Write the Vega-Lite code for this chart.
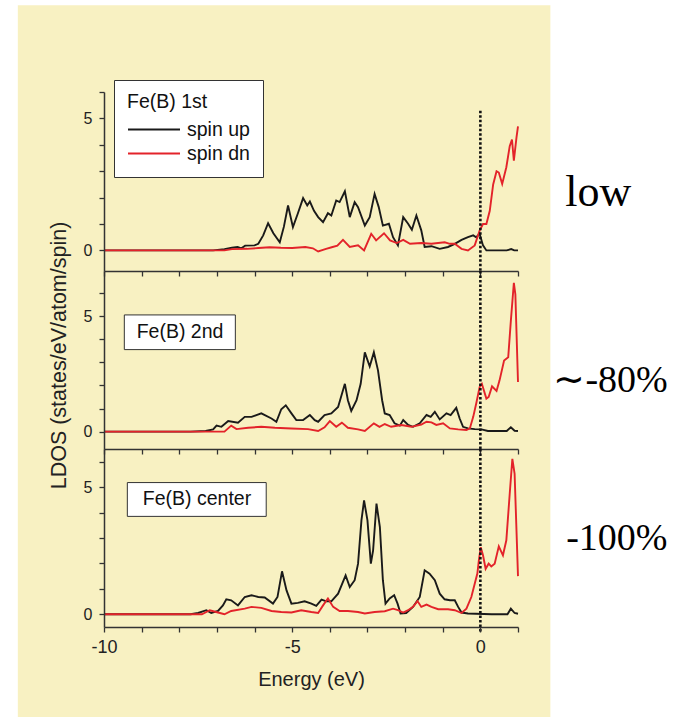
{
"$schema": "https://vega.github.io/schema/vega-lite/v6.json",
"background": "white",
"padding": {"left": 17, "top": 5, "right": 10, "bottom": 0},
"bounds": "flush",
"spacing": 0,
"datasets": {
"dos": [
{"p":1,"s":"spin up","e":-10,"v":0},{"p":1,"s":"spin up","e":-7.1,"v":0},{"p":1,"s":"spin up","e":-6.8,"v":0.05},{"p":1,"s":"spin up","e":-6.6,"v":0.1},{"p":1,"s":"spin up","e":-6.45,"v":0.13},{"p":1,"s":"spin up","e":-6.35,"v":0.08},{"p":1,"s":"spin up","e":-6.25,"v":0.18},{"p":1,"s":"spin up","e":-6.0,"v":0.19},{"p":1,"s":"spin up","e":-5.9,"v":0.25},{"p":1,"s":"spin up","e":-5.77,"v":0.57},{"p":1,"s":"spin up","e":-5.64,"v":1.03},{"p":1,"s":"spin up","e":-5.5,"v":0.65},{"p":1,"s":"spin up","e":-5.33,"v":0.31},{"p":1,"s":"spin up","e":-5.22,"v":0.9},{"p":1,"s":"spin up","e":-5.11,"v":1.7},{"p":1,"s":"spin up","e":-4.98,"v":0.88},{"p":1,"s":"spin up","e":-4.85,"v":1.4},{"p":1,"s":"spin up","e":-4.71,"v":1.98},{"p":1,"s":"spin up","e":-4.6,"v":1.7},{"p":1,"s":"spin up","e":-4.53,"v":1.85},{"p":1,"s":"spin up","e":-4.42,"v":1.5},{"p":1,"s":"spin up","e":-4.31,"v":1.26},{"p":1,"s":"spin up","e":-4.18,"v":1.07},{"p":1,"s":"spin up","e":-4.05,"v":1.41},{"p":1,"s":"spin up","e":-3.96,"v":1.32},{"p":1,"s":"spin up","e":-3.83,"v":1.89},{"p":1,"s":"spin up","e":-3.74,"v":1.83},{"p":1,"s":"spin up","e":-3.6,"v":2.24},{"p":1,"s":"spin up","e":-3.47,"v":1.26},{"p":1,"s":"spin up","e":-3.34,"v":1.83},{"p":1,"s":"spin up","e":-3.25,"v":1.64},{"p":1,"s":"spin up","e":-3.07,"v":0.94},{"p":1,"s":"spin up","e":-2.94,"v":1.26},{"p":1,"s":"spin up","e":-2.81,"v":2.14},{"p":1,"s":"spin up","e":-2.7,"v":1.64},{"p":1,"s":"spin up","e":-2.59,"v":0.94},{"p":1,"s":"spin up","e":-2.43,"v":1.01},{"p":1,"s":"spin up","e":-2.32,"v":0.5},{"p":1,"s":"spin up","e":-2.19,"v":0.19},{"p":1,"s":"spin up","e":-2.05,"v":1.26},{"p":1,"s":"spin up","e":-1.92,"v":1.01},{"p":1,"s":"spin up","e":-1.82,"v":0.78},{"p":1,"s":"spin up","e":-1.7,"v":1.32},{"p":1,"s":"spin up","e":-1.57,"v":0.76},{"p":1,"s":"spin up","e":-1.48,"v":0.13},{"p":1,"s":"spin up","e":-1.3,"v":0.16},{"p":1,"s":"spin up","e":-1.08,"v":0.06},{"p":1,"s":"spin up","e":-0.86,"v":0.13},{"p":1,"s":"spin up","e":-0.68,"v":0.25},{"p":1,"s":"spin up","e":-0.5,"v":0.4},{"p":1,"s":"spin up","e":-0.33,"v":0.5},{"p":1,"s":"spin up","e":-0.19,"v":0.57},{"p":1,"s":"spin up","e":-0.11,"v":0.5},{"p":1,"s":"spin up","e":-0.02,"v":0.63},{"p":1,"s":"spin up","e":0.07,"v":0.19},{"p":1,"s":"spin up","e":0.16,"v":0},{"p":1,"s":"spin up","e":0.7,"v":0},{"p":1,"s":"spin up","e":0.82,"v":0.05},{"p":1,"s":"spin up","e":0.9,"v":0},{"p":1,"s":"spin up","e":1.0,"v":0},
{"p":1,"s":"spin dn","e":-10,"v":0},{"p":1,"s":"spin dn","e":-6.8,"v":0},{"p":1,"s":"spin dn","e":-6.6,"v":0.05},{"p":1,"s":"spin dn","e":-6.2,"v":0.06},{"p":1,"s":"spin dn","e":-5.9,"v":0.09},{"p":1,"s":"spin dn","e":-5.6,"v":0.12},{"p":1,"s":"spin dn","e":-5.3,"v":0.1},{"p":1,"s":"spin dn","e":-5.0,"v":0.09},{"p":1,"s":"spin dn","e":-4.65,"v":0.13},{"p":1,"s":"spin dn","e":-4.45,"v":0.08},{"p":1,"s":"spin dn","e":-4.31,"v":-0.04},{"p":1,"s":"spin dn","e":-4.1,"v":0.06},{"p":1,"s":"spin dn","e":-3.95,"v":0.12},{"p":1,"s":"spin dn","e":-3.8,"v":0.18},{"p":1,"s":"spin dn","e":-3.65,"v":0.4},{"p":1,"s":"spin dn","e":-3.47,"v":0.13},{"p":1,"s":"spin dn","e":-3.25,"v":0.19},{"p":1,"s":"spin dn","e":-3.09,"v":0},{"p":1,"s":"spin dn","e":-2.9,"v":0.63},{"p":1,"s":"spin dn","e":-2.77,"v":0.38},{"p":1,"s":"spin dn","e":-2.56,"v":0.65},{"p":1,"s":"spin dn","e":-2.4,"v":0.38},{"p":1,"s":"spin dn","e":-2.22,"v":0.28},{"p":1,"s":"spin dn","e":-2.05,"v":0.4},{"p":1,"s":"spin dn","e":-1.87,"v":0.25},{"p":1,"s":"spin dn","e":-1.57,"v":0.28},{"p":1,"s":"spin dn","e":-1.3,"v":0.25},{"p":1,"s":"spin dn","e":-0.95,"v":0.31},{"p":1,"s":"spin dn","e":-0.81,"v":0.25},{"p":1,"s":"spin dn","e":-0.68,"v":0.25},{"p":1,"s":"spin dn","e":-0.5,"v":0.06},{"p":1,"s":"spin dn","e":-0.33,"v":0},{"p":1,"s":"spin dn","e":-0.15,"v":0.19},{"p":1,"s":"spin dn","e":-0.02,"v":0.75},{"p":1,"s":"spin dn","e":0.07,"v":1.0},{"p":1,"s":"spin dn","e":0.16,"v":1.0},{"p":1,"s":"spin dn","e":0.25,"v":1.5},{"p":1,"s":"spin dn","e":0.34,"v":2.5},{"p":1,"s":"spin dn","e":0.43,"v":3.0},{"p":1,"s":"spin dn","e":0.49,"v":2.95},{"p":1,"s":"spin dn","e":0.58,"v":2.52},{"p":1,"s":"spin dn","e":0.69,"v":3.15},{"p":1,"s":"spin dn","e":0.78,"v":3.95},{"p":1,"s":"spin dn","e":0.84,"v":4.2},{"p":1,"s":"spin dn","e":0.89,"v":3.4},{"p":1,"s":"spin dn","e":0.96,"v":4.28},{"p":1,"s":"spin dn","e":1.0,"v":4.7},
{"p":2,"s":"spin up","e":-10,"v":0},{"p":2,"s":"spin up","e":-7.7,"v":0},{"p":2,"s":"spin up","e":-7.3,"v":0.03},{"p":2,"s":"spin up","e":-7.1,"v":0.1},{"p":2,"s":"spin up","e":-7.01,"v":0.26},{"p":2,"s":"spin up","e":-6.88,"v":0.21},{"p":2,"s":"spin up","e":-6.7,"v":0.46},{"p":2,"s":"spin up","e":-6.44,"v":0.39},{"p":2,"s":"spin up","e":-6.26,"v":0.64},{"p":2,"s":"spin up","e":-6.08,"v":0.64},{"p":2,"s":"spin up","e":-5.82,"v":0.79},{"p":2,"s":"spin up","e":-5.55,"v":0.57},{"p":2,"s":"spin up","e":-5.42,"v":0.43},{"p":2,"s":"spin up","e":-5.29,"v":0.97},{"p":2,"s":"spin up","e":-5.17,"v":1.14},{"p":2,"s":"spin up","e":-5.02,"v":0.79},{"p":2,"s":"spin up","e":-4.89,"v":0.5},{"p":2,"s":"spin up","e":-4.71,"v":0.5},{"p":2,"s":"spin up","e":-4.53,"v":0.72},{"p":2,"s":"spin up","e":-4.4,"v":0.5},{"p":2,"s":"spin up","e":-4.31,"v":0.43},{"p":2,"s":"spin up","e":-4.14,"v":0.72},{"p":2,"s":"spin up","e":-3.96,"v":0.79},{"p":2,"s":"spin up","e":-3.78,"v":1.07},{"p":2,"s":"spin up","e":-3.6,"v":2.07},{"p":2,"s":"spin up","e":-3.52,"v":1.36},{"p":2,"s":"spin up","e":-3.43,"v":0.9},{"p":2,"s":"spin up","e":-3.29,"v":1.36},{"p":2,"s":"spin up","e":-3.18,"v":2.07},{"p":2,"s":"spin up","e":-3.07,"v":3.43},{"p":2,"s":"spin up","e":-2.94,"v":2.82},{"p":2,"s":"spin up","e":-2.83,"v":3.43},{"p":2,"s":"spin up","e":-2.72,"v":2.65},{"p":2,"s":"spin up","e":-2.61,"v":1.36},{"p":2,"s":"spin up","e":-2.54,"v":0.79},{"p":2,"s":"spin up","e":-2.41,"v":0.72},{"p":2,"s":"spin up","e":-2.28,"v":0.36},{"p":2,"s":"spin up","e":-2.14,"v":0.26},{"p":2,"s":"spin up","e":-2.05,"v":0.5},{"p":2,"s":"spin up","e":-1.92,"v":0.29},{"p":2,"s":"spin up","e":-1.79,"v":0.21},{"p":2,"s":"spin up","e":-1.61,"v":0.36},{"p":2,"s":"spin up","e":-1.43,"v":0.72},{"p":2,"s":"spin up","e":-1.32,"v":0.64},{"p":2,"s":"spin up","e":-1.21,"v":0.86},{"p":2,"s":"spin up","e":-1.08,"v":0.53},{"p":2,"s":"spin up","e":-0.9,"v":0.79},{"p":2,"s":"spin up","e":-0.79,"v":0.72},{"p":2,"s":"spin up","e":-0.64,"v":1.03},{"p":2,"s":"spin up","e":-0.55,"v":0.57},{"p":2,"s":"spin up","e":-0.46,"v":0.21},{"p":2,"s":"spin up","e":-0.33,"v":0.14},{"p":2,"s":"spin up","e":-0.15,"v":0.11},{"p":2,"s":"spin up","e":0.03,"v":0.1},{"p":2,"s":"spin up","e":0.2,"v":0.03},{"p":2,"s":"spin up","e":0.7,"v":0.03},{"p":2,"s":"spin up","e":0.81,"v":0.19},{"p":2,"s":"spin up","e":0.91,"v":0.04},{"p":2,"s":"spin up","e":1.0,"v":0.03},
{"p":2,"s":"spin dn","e":-10,"v":0},{"p":2,"s":"spin dn","e":-6.8,"v":0},{"p":2,"s":"spin dn","e":-6.62,"v":0.26},{"p":2,"s":"spin dn","e":-6.48,"v":0.11},{"p":2,"s":"spin dn","e":-6.17,"v":0.17},{"p":2,"s":"spin dn","e":-5.82,"v":0.21},{"p":2,"s":"spin dn","e":-5.46,"v":0.17},{"p":2,"s":"spin dn","e":-5.02,"v":0.14},{"p":2,"s":"spin dn","e":-4.58,"v":0.11},{"p":2,"s":"spin dn","e":-4.31,"v":0.03},{"p":2,"s":"spin dn","e":-4.14,"v":0.19},{"p":2,"s":"spin dn","e":-4.0,"v":0.46},{"p":2,"s":"spin dn","e":-3.83,"v":0.21},{"p":2,"s":"spin dn","e":-3.68,"v":0.39},{"p":2,"s":"spin dn","e":-3.52,"v":0.17},{"p":2,"s":"spin dn","e":-3.25,"v":0.1},{"p":2,"s":"spin dn","e":-3.07,"v":0.03},{"p":2,"s":"spin dn","e":-2.83,"v":0.36},{"p":2,"s":"spin dn","e":-2.68,"v":0.21},{"p":2,"s":"spin dn","e":-2.54,"v":0.33},{"p":2,"s":"spin dn","e":-2.37,"v":0.21},{"p":2,"s":"spin dn","e":-2.1,"v":0.29},{"p":2,"s":"spin dn","e":-1.83,"v":0.21},{"p":2,"s":"spin dn","e":-1.57,"v":0.31},{"p":2,"s":"spin dn","e":-1.43,"v":0.43},{"p":2,"s":"spin dn","e":-1.3,"v":0.4},{"p":2,"s":"spin dn","e":-1.17,"v":0.29},{"p":2,"s":"spin dn","e":-0.99,"v":0.36},{"p":2,"s":"spin dn","e":-0.81,"v":0.14},{"p":2,"s":"spin dn","e":-0.59,"v":0.1},{"p":2,"s":"spin dn","e":-0.37,"v":0.07},{"p":2,"s":"spin dn","e":-0.28,"v":0.14},{"p":2,"s":"spin dn","e":-0.19,"v":0.64},{"p":2,"s":"spin dn","e":-0.11,"v":1.22},{"p":2,"s":"spin dn","e":-0.02,"v":1.93},{"p":2,"s":"spin dn","e":0.04,"v":2.07},{"p":2,"s":"spin dn","e":0.16,"v":1.43},{"p":2,"s":"spin dn","e":0.22,"v":1.5},{"p":2,"s":"spin dn","e":0.31,"v":1.96},{"p":2,"s":"spin dn","e":0.43,"v":1.76},{"p":2,"s":"spin dn","e":0.51,"v":2.22},{"p":2,"s":"spin dn","e":0.63,"v":3.08},{"p":2,"s":"spin dn","e":0.74,"v":3.22},{"p":2,"s":"spin dn","e":0.81,"v":4.79},{"p":2,"s":"spin dn","e":0.89,"v":6.44},{"p":2,"s":"spin dn","e":0.93,"v":5.94},{"p":2,"s":"spin dn","e":1.0,"v":2.15},
{"p":3,"s":"spin up","e":-10,"v":0},{"p":3,"s":"spin up","e":-7.7,"v":0},{"p":3,"s":"spin up","e":-7.5,"v":0.05},{"p":3,"s":"spin up","e":-7.28,"v":0.16},{"p":3,"s":"spin up","e":-7.15,"v":0.05},{"p":3,"s":"spin up","e":-6.97,"v":0.13},{"p":3,"s":"spin up","e":-6.84,"v":0.35},{"p":3,"s":"spin up","e":-6.75,"v":0.59},{"p":3,"s":"spin up","e":-6.62,"v":0.55},{"p":3,"s":"spin up","e":-6.44,"v":0.35},{"p":3,"s":"spin up","e":-6.26,"v":0.68},{"p":3,"s":"spin up","e":-6.08,"v":0.75},{"p":3,"s":"spin up","e":-5.9,"v":0.68},{"p":3,"s":"spin up","e":-5.73,"v":0.66},{"p":3,"s":"spin up","e":-5.51,"v":0.42},{"p":3,"s":"spin up","e":-5.39,"v":0.68},{"p":3,"s":"spin up","e":-5.27,"v":1.69},{"p":3,"s":"spin up","e":-5.15,"v":0.94},{"p":3,"s":"spin up","e":-5.02,"v":0.42},{"p":3,"s":"spin up","e":-4.85,"v":0.45},{"p":3,"s":"spin up","e":-4.67,"v":0.51},{"p":3,"s":"spin up","e":-4.49,"v":0.42},{"p":3,"s":"spin up","e":-4.36,"v":0.33},{"p":3,"s":"spin up","e":-4.22,"v":0.58},{"p":3,"s":"spin up","e":-4.09,"v":0.51},{"p":3,"s":"spin up","e":-3.96,"v":0.51},{"p":3,"s":"spin up","e":-3.78,"v":0.81},{"p":3,"s":"spin up","e":-3.58,"v":1.53},{"p":3,"s":"spin up","e":-3.47,"v":1.07},{"p":3,"s":"spin up","e":-3.34,"v":1.34},{"p":3,"s":"spin up","e":-3.25,"v":1.99},{"p":3,"s":"spin up","e":-3.16,"v":3.69},{"p":3,"s":"spin up","e":-3.09,"v":4.48},{"p":3,"s":"spin up","e":-3.0,"v":3.69},{"p":3,"s":"spin up","e":-2.91,"v":1.99},{"p":3,"s":"spin up","e":-2.85,"v":2.51},{"p":3,"s":"spin up","e":-2.76,"v":4.35},{"p":3,"s":"spin up","e":-2.67,"v":3.43},{"p":3,"s":"spin up","e":-2.59,"v":1.34},{"p":3,"s":"spin up","e":-2.52,"v":0.42},{"p":3,"s":"spin up","e":-2.41,"v":0.62},{"p":3,"s":"spin up","e":-2.29,"v":0.75},{"p":3,"s":"spin up","e":-2.2,"v":0.42},{"p":3,"s":"spin up","e":-2.12,"v":0.03},{"p":3,"s":"spin up","e":-1.97,"v":0.05},{"p":3,"s":"spin up","e":-1.79,"v":0.29},{"p":3,"s":"spin up","e":-1.61,"v":0.68},{"p":3,"s":"spin up","e":-1.48,"v":1.73},{"p":3,"s":"spin up","e":-1.35,"v":1.6},{"p":3,"s":"spin up","e":-1.21,"v":1.34},{"p":3,"s":"spin up","e":-1.08,"v":0.81},{"p":3,"s":"spin up","e":-0.95,"v":0.59},{"p":3,"s":"spin up","e":-0.81,"v":0.55},{"p":3,"s":"spin up","e":-0.68,"v":0.55},{"p":3,"s":"spin up","e":-0.59,"v":0.29},{"p":3,"s":"spin up","e":-0.5,"v":0.07},{"p":3,"s":"spin up","e":-0.33,"v":0.03},{"p":3,"s":"spin up","e":0.3,"v":0},{"p":3,"s":"spin up","e":0.72,"v":0},{"p":3,"s":"spin up","e":0.81,"v":0.22},{"p":3,"s":"spin up","e":0.91,"v":0.05},{"p":3,"s":"spin up","e":1.0,"v":0.02},
{"p":3,"s":"spin dn","e":-10,"v":0},{"p":3,"s":"spin dn","e":-7.4,"v":0},{"p":3,"s":"spin dn","e":-7.19,"v":0.16},{"p":3,"s":"spin dn","e":-6.97,"v":0.07},{"p":3,"s":"spin dn","e":-6.8,"v":0},{"p":3,"s":"spin dn","e":-6.62,"v":0.13},{"p":3,"s":"spin dn","e":-6.26,"v":0.22},{"p":3,"s":"spin dn","e":-6.08,"v":0.29},{"p":3,"s":"spin dn","e":-5.82,"v":0.25},{"p":3,"s":"spin dn","e":-5.55,"v":0.13},{"p":3,"s":"spin dn","e":-5.29,"v":0.09},{"p":3,"s":"spin dn","e":-5.02,"v":0.07},{"p":3,"s":"spin dn","e":-4.76,"v":0.16},{"p":3,"s":"spin dn","e":-4.49,"v":0.09},{"p":3,"s":"spin dn","e":-4.31,"v":0.05},{"p":3,"s":"spin dn","e":-4.18,"v":0.35},{"p":3,"s":"spin dn","e":-4.05,"v":0.62},{"p":3,"s":"spin dn","e":-3.91,"v":0.29},{"p":3,"s":"spin dn","e":-3.74,"v":0.13},{"p":3,"s":"spin dn","e":-3.52,"v":0.13},{"p":3,"s":"spin dn","e":-3.25,"v":0.09},{"p":3,"s":"spin dn","e":-3.07,"v":0.03},{"p":3,"s":"spin dn","e":-2.81,"v":0.09},{"p":3,"s":"spin dn","e":-2.54,"v":0.12},{"p":3,"s":"spin dn","e":-2.32,"v":0.22},{"p":3,"s":"spin dn","e":-2.19,"v":0.16},{"p":3,"s":"spin dn","e":-2.05,"v":0.07},{"p":3,"s":"spin dn","e":-1.92,"v":0.16},{"p":3,"s":"spin dn","e":-1.79,"v":0.29},{"p":3,"s":"spin dn","e":-1.67,"v":0.52},{"p":3,"s":"spin dn","e":-1.57,"v":0.29},{"p":3,"s":"spin dn","e":-1.43,"v":0.38},{"p":3,"s":"spin dn","e":-1.3,"v":0.29},{"p":3,"s":"spin dn","e":-1.12,"v":0.2},{"p":3,"s":"spin dn","e":-0.86,"v":0.2},{"p":3,"s":"spin dn","e":-0.68,"v":0.16},{"p":3,"s":"spin dn","e":-0.5,"v":0.05},{"p":3,"s":"spin dn","e":-0.37,"v":0.22},{"p":3,"s":"spin dn","e":-0.24,"v":0.68},{"p":3,"s":"spin dn","e":-0.15,"v":1.2},{"p":3,"s":"spin dn","e":-0.08,"v":1.6},{"p":3,"s":"spin dn","e":-0.04,"v":2.12},{"p":3,"s":"spin dn","e":0.01,"v":2.64},{"p":3,"s":"spin dn","e":0.07,"v":2.32},{"p":3,"s":"spin dn","e":0.14,"v":1.79},{"p":3,"s":"spin dn","e":0.22,"v":1.99},{"p":3,"s":"spin dn","e":0.29,"v":1.88},{"p":3,"s":"spin dn","e":0.38,"v":1.99},{"p":3,"s":"spin dn","e":0.49,"v":2.67},{"p":3,"s":"spin dn","e":0.6,"v":2.32},{"p":3,"s":"spin dn","e":0.69,"v":2.91},{"p":3,"s":"spin dn","e":0.78,"v":4.74},{"p":3,"s":"spin dn","e":0.85,"v":6.11},{"p":3,"s":"spin dn","e":0.91,"v":5.52},{"p":3,"s":"spin dn","e":1.0,"v":1.5}
]
},
"resolve": {"scale": {"color": "independent"}},
"vconcat": [
{
"width": 414, "height": 179,
"layer": [
{"data": {"values": [{}]}, "mark": {"type": "rect", "color": "#F8F1C2", "clip": false},
 "encoding": {"x": {"datum": -12.29}, "x2": {"datum": 1.86}, "y": {"datum": 9.29}, "y2": {"datum": -17.7}}},
{"data": {"name": "dos"}, "transform": [{"filter": "datum.p == 1"}],
 "mark": {"type": "line", "strokeWidth": 1.9},
 "encoding": {
  "x": {"field": "e", "type": "quantitative", "scale": {"domain": [-10, 1], "nice": false, "zero": false},
        "axis": {"title": null, "labels": false, "values": [-10,-9,-8,-7,-6,-5,-4,-3,-2,-1,0,1], "tickCount": 40, "tickSize": 5, "zindex": 1}},
  "y": {"field": "v", "type": "quantitative", "scale": {"domain": [-0.78, 6.0], "nice": false, "zero": false},
        "axis": {"title": null, "values": [0,1,2,3,4,5,6], "tickCount": 40, "labelExpr": "datum.value == 0 ? '0' : datum.value == 5 ? '5' : ''", "labelOverlap": false, "tickSize": 5, "zindex": 1}},
  "color": {"field": "s", "type": "nominal", "scale": {"domain": ["spin up", "spin dn"], "range": ["#1a1a1a", "#e3232a"]},
        "legend": {"title": "Fe(B) 1st", "orient": "none", "legendX": 10, "legendY": -12}}
 }},
{"data": {"values": [{}]}, "mark": {"type": "rule", "strokeDash": [2.5, 2], "strokeWidth": 2.6, "color": "#111"},
 "encoding": {"x": {"datum": 0}, "y": {"datum": 5.29}, "y2": {"datum": -0.78}}},
{"data": {"values": [{}]}, "mark": {"type": "text", "text": "low", "font": "Liberation Serif", "fontSize": 44, "align": "center", "baseline": "alphabetic", "color": "#000", "clip": false},
 "encoding": {"x": {"datum": 3.13}, "y": {"datum": 1.7}}}
]
},
{
"width": 414, "height": 178,
"layer": [
{"data": {"name": "dos"}, "transform": [{"filter": "datum.p == 2"}],
 "mark": {"type": "line", "strokeWidth": 1.9},
 "encoding": {
  "x": {"field": "e", "type": "quantitative", "scale": {"domain": [-10, 1], "nice": false, "zero": false},
        "axis": {"title": null, "labels": false, "values": [-10,-9,-8,-7,-6,-5,-4,-3,-2,-1,0,1], "tickCount": 40, "tickSize": 5, "zindex": 1}},
  "y": {"field": "v", "type": "quantitative", "scale": {"domain": [-0.75, 6.95], "nice": false, "zero": false},
        "axis": {"title": "LDOS (states/eV/atom/spin)", "titleX": -39, "titleY": 84, "titleAlign": "center", "titleAngle": -90, "titleBaseline": "alphabetic", "titleFontSize": 21.5, "values": [0,1,2,3,4,5,6], "tickCount": 40, "labelExpr": "datum.value == 0 ? '0' : datum.value == 5 ? '5' : ''", "labelOverlap": false, "tickSize": 5, "zindex": 1}},
  "color": {"field": "s", "type": "nominal", "scale": {"domain": ["spin up", "spin dn"], "range": ["#1a1a1a", "#e3232a"]}, "legend": null}
 }},
{"data": {"values": [{}]}, "mark": {"type": "rule", "strokeDash": [2.5, 2], "strokeWidth": 2.6, "color": "#111"},
 "encoding": {"x": {"datum": 0}, "y": {"datum": 6.95}, "y2": {"datum": -0.75}}},
{"data": {"values": [{}]}, "mark": {"type": "rect", "fill": "white", "stroke": "#333", "strokeWidth": 1},
 "encoding": {"x": {"datum": -9.46}, "x2": {"datum": -6.51}, "y": {"datum": 5.05}, "y2": {"datum": 3.55}}},
{"data": {"values": [{}]}, "mark": {"type": "text", "text": "Fe(B) 2nd", "font": "Liberation Sans", "fontSize": 19.5, "align": "center", "baseline": "middle", "color": "#111"},
 "encoding": {"x": {"datum": -7.98}, "y": {"datum": 4.3}}},
{"data": {"values": [{}]}, "mark": {"type": "text", "text": "∼-80%", "font": "Liberation Serif", "fontSize": 38, "align": "left", "baseline": "alphabetic", "color": "#000", "clip": false},
 "encoding": {"x": {"datum": 1.94}, "y": {"datum": 1.7}}}
]
},
{
"width": 414, "height": 178,
"layer": [
{"data": {"name": "dos"}, "transform": [{"filter": "datum.p == 3"}],
 "mark": {"type": "line", "strokeWidth": 1.9},
 "encoding": {
  "x": {"field": "e", "type": "quantitative", "scale": {"domain": [-10, 1], "nice": false, "zero": false},
        "axis": {"title": "Energy (eV)", "titleFontSize": 20, "titlePadding": 13, "values": [-10,-9,-8,-7,-6,-5,-4,-3,-2,-1,0,1], "tickCount": 40, "labelExpr": "datum.value == -10 ? '-10' : datum.value == -5 ? '-5' : datum.value == 0 ? '0' : ''", "labelOverlap": false, "labelFontSize": 18, "labelPadding": 6, "tickSize": 5, "zindex": 1}},
  "y": {"field": "v", "type": "quantitative", "scale": {"domain": [-0.5, 6.5], "nice": false, "zero": false},
        "axis": {"title": null, "values": [0,1,2,3,4,5,6], "tickCount": 40, "labelExpr": "datum.value == 0 ? '0' : datum.value == 5 ? '5' : ''", "labelOverlap": false, "tickSize": 5, "zindex": 1}},
  "color": {"field": "s", "type": "nominal", "scale": {"domain": ["spin up", "spin dn"], "range": ["#1a1a1a", "#e3232a"]}, "legend": null}
 }},
{"data": {"values": [{}]}, "mark": {"type": "rule", "strokeDash": [2.5, 2], "strokeWidth": 2.6, "color": "#111"},
 "encoding": {"x": {"datum": 0}, "y": {"datum": 6.5}, "y2": {"datum": -0.75}}},
{"data": {"values": [{}]}, "mark": {"type": "rect", "fill": "white", "stroke": "#333", "strokeWidth": 1},
 "encoding": {"x": {"datum": -9.38}, "x2": {"datum": -5.69}, "y": {"datum": 5.18}, "y2": {"datum": 3.85}}},
{"data": {"values": [{}]}, "mark": {"type": "text", "text": "Fe(B) center", "font": "Liberation Sans", "fontSize": 19.5, "align": "center", "baseline": "middle", "color": "#111"},
 "encoding": {"x": {"datum": -7.53}, "y": {"datum": 4.52}}},
{"data": {"values": [{}]}, "mark": {"type": "text", "text": "-100%", "font": "Liberation Serif", "fontSize": 38, "align": "left", "baseline": "alphabetic", "color": "#000", "clip": false},
 "encoding": {"x": {"datum": 2.28}, "y": {"datum": 2.51}}}
]
}
],
"config": {
 "view": {"stroke": null},
 "axis": {"grid": false, "domainColor": "#333", "domainWidth": 1.5, "tickColor": "#333", "tickWidth": 1.3, "labelOverlap": false, "labelFlush": false,
          "labelColor": "#222", "labelFont": "Liberation Sans", "labelFontSize": 16, "labelPadding": 7,
          "titleColor": "#222", "titleFont": "Liberation Sans", "titleFontWeight": "normal"},
 "legend": {"symbolType": "stroke", "symbolSize": 2704, "symbolStrokeWidth": 2, "labelOffset": 6, "clipHeight": 20,
            "labelFont": "Liberation Sans", "labelFontSize": 19.5, "labelColor": "#111", "labelLimit": 200,
            "titleFont": "Liberation Sans", "titleFontSize": 19.5, "titleFontWeight": "normal", "titleColor": "#111",
            "padding": 13, "titlePadding": 7, "rowPadding": 4, "fillColor": "white", "strokeColor": "#333"}
}
}
